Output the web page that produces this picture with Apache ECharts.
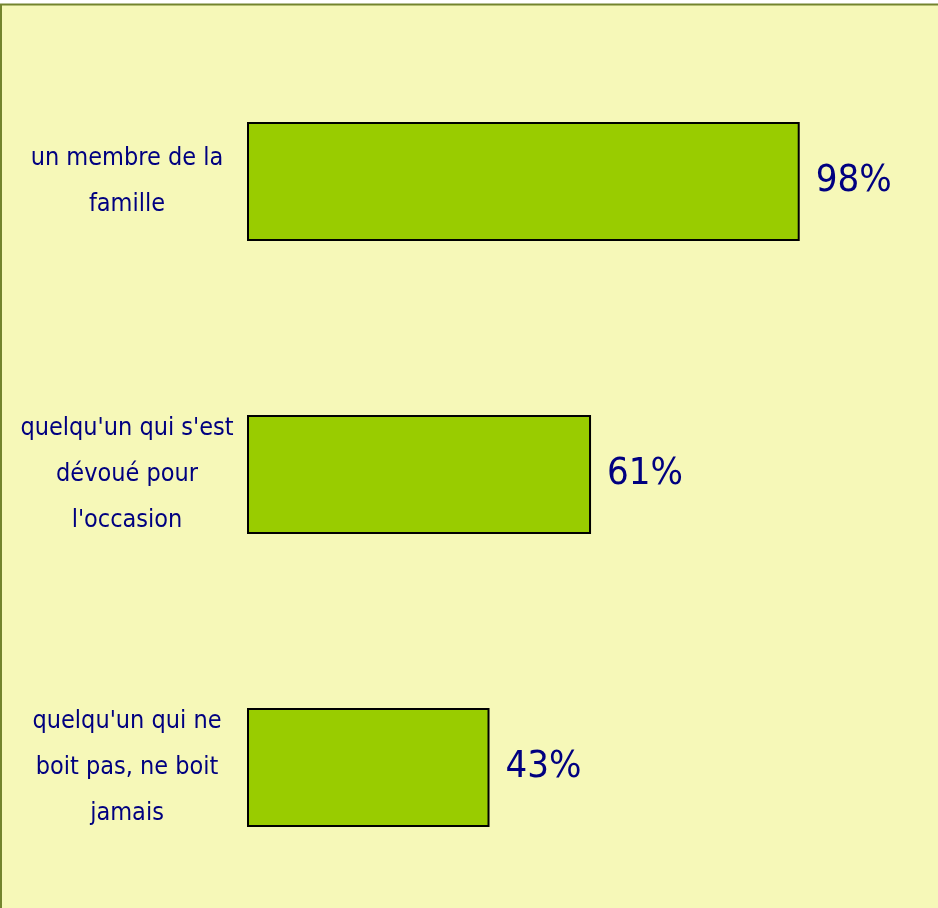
<!DOCTYPE html>
<html>
<head>
<meta charset="utf-8">
<script src="https://cdn.jsdelivr.net/npm/echarts@6/dist/echarts.min.js"></script>
<style>
html, body { margin: 0; padding: 0; background: #ffffff; }
#chart { width: 938px; height: 908px; }
</style>
</head>
<body>
<div id="chart"></div>
<script>
let chart = echarts.init(document.getElementById('chart'));

// categories, top to bottom
let categories = [
	'un membre de la\nfamille',
	"quelqu'un qui s'est\ndévoué pour\nl'occasion",
	"quelqu'un qui ne\nboit pas, ne boit\njamais"
];
let values = [98, 61, 43];

let font = "'Liberation Sans Narrow', 'DejaVu Sans Condensed', sans-serif";

option = {
	animation: false,
	graphic: [{
		type: 'rect',
		z: -10,
		shape: { x: 1, y: 4.5, width: 1000, height: 1000 },
		style: { fill: '#f6f8b8', stroke: '#73842e', lineWidth: 2 }
	}],
	grid: {
		left: 247,
		top: 35,
		width: 564,
		height: 879,
		outerBoundsMode: 'none'
	},
	xAxis: {
		type: 'value',
		min: 0,
		max: 100,
		show: false
	},
	yAxis: {
		type: 'category',
		inverse: true,
		data: categories,
		axisLine: { show: false },
		axisTick: { show: false },
		axisLabel: {
			margin: 120,
			align: 'center',
			color: '#000080',
			fontFamily: font,
			fontSize: 25,
			lineHeight: 46,
			padding: [6, 0, 0, 0]
		}
	},
	series: [{
		type: 'bar',
		data: values,
		barWidth: 119,
		itemStyle: {
			color: '#99cc00',
			borderColor: '#000000',
			borderWidth: 2
		},
		label: {
			show: true,
			position: 'right',
			distance: 16,
			formatter: '{c}%',
			color: '#000080',
			fontFamily: font,
			fontSize: 38,
			padding: [6, 0, 0, 0]
		}
	}]
};

chart.setOption(option, true);
</script>
</body>
</html>
